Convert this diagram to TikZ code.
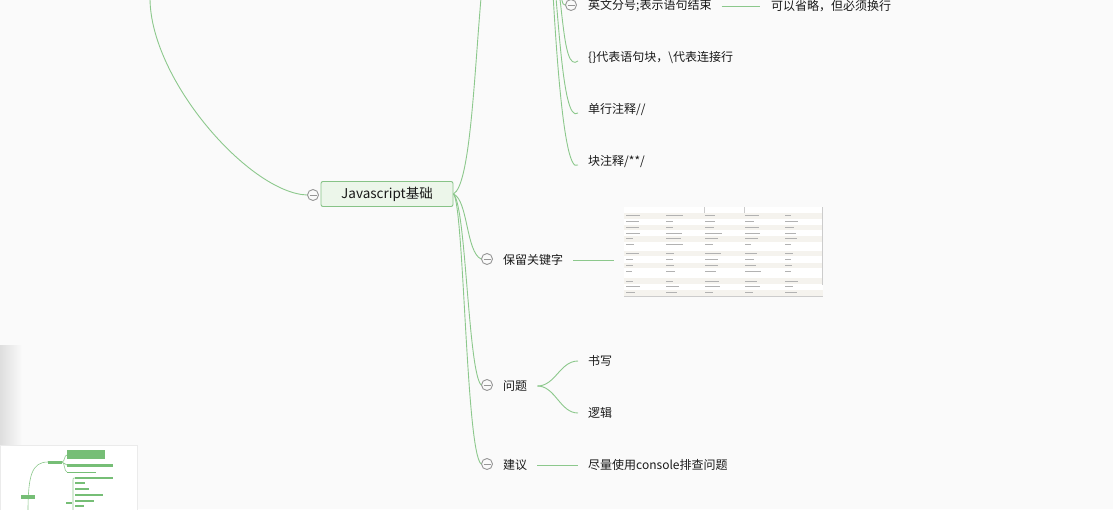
\documentclass[tikz,border=0pt]{standalone}
\usepackage{fontspec}
\newfontfamily\cjk{Noto Sans CJK SC}
\definecolor{bg}{RGB}{250,250,250}
\definecolor{branch}{RGB}{140,200,140}
\definecolor{rootfill}{RGB}{236,246,234}
\definecolor{rootline}{RGB}{135,195,135}
\definecolor{foldgray}{RGB}{150,150,150}
\definecolor{ink}{RGB}{25,25,25}
\definecolor{mapgreen}{RGB}{118,190,118}
\definecolor{rowtint}{RGB}{245,243,238}
\tikzset{
    topic/.style={anchor=west, inner sep=0pt, text=ink, font=\cjk\fontsize{12}{14}\selectfont},
    root/.style={draw=rootline, fill=rootfill, rounded corners=2pt, line width=0.9pt, minimum width=132pt, minimum height=25pt, text=ink, font=\cjk\fontsize{13.5}{15}\selectfont},
    fold/.style={circle, draw=foldgray, fill=bg, minimum size=11pt, inner sep=0pt, line width=0.9pt,
        path picture={\draw[foldgray, line width=0.9pt] ([xshift=-3.5pt]path picture bounding box.center) -- ([xshift=3.5pt]path picture bounding box.center);}},
    link/.style={draw=branch, line width=0.9pt},
    cell/.style={black!30, line width=1pt},
    mapbar/.style={fill=mapgreen, draw=none}
}
\begin{document}
\begin{tikzpicture}[x=1pt, y=-1pt]
    \useasboundingbox (0,0) rectangle (1113,509);
    \clip (0,0) rectangle (1113,509);
    \fill[bg] (0,0) rectangle (1113,509);
    \shade[left color=black!13, right color=bg] (0,345) rectangle (22,445);

    \node[root] at (387,194) (root) {Javascript基础};
    \node[fold] at (313,195) (rfold) {};
    \coordinate (upleft) at (150,-2);
    \coordinate (upright) at (481,-2);
    \coordinate (sup) at (550,-60);
    \draw[link] (rfold.west) .. controls (250,193) and (150,80) .. (upleft);
    \draw[link] (root.east) .. controls (470,185) and (474,80) .. (upright);

    \node[fold] at (571,5) (semifold) {};
    \node[topic] at (588,6) (semi) {英文分号;表示语句结束};
    \node[topic] at (771,6) (omit) {可以省略，但必须换行};
    \node[topic] at (588,58) (brace) {\{\}代表语句块，\textbackslash 代表连接行};
    \node[topic] at (588,110) (line) {单行注释//};
    \node[topic] at (588,162) (block) {块注释/**/};
    \draw[link] (sup) .. controls (566,-20) and (558,5) .. (semifold.west);
    \draw[link] ([xshift=10pt]semi.east) -- ([xshift=-11pt]omit.west);
    \foreach \t/\s in {brace/564, line/558, block/553}
        \draw[link] (sup) .. controls (\s,-10) and ([xshift=-27pt, yshift=-16pt]\t.west) .. ([xshift=-10pt, yshift=-3pt]\t.west);

    \node[fold] at (487,259) (keyfold) {};
    \node[topic] at (503,260) (key) {保留关键字};
    \node[fold] at (487,385) (qfold) {};
    \node[topic] at (503,386) (quest) {问题};
    \node[fold] at (487,464) (advfold) {};
    \node[topic] at (503,465) (adv) {建议};
    \draw[link] (root.east) .. controls (468,200) and (466,252) .. (keyfold.west);
    \draw[link] (root.east) .. controls (466,205) and (468,370) .. (qfold.west);
    \draw[link] (root.east) .. controls (464,205) and (466,450) .. (advfold.west);

    \node[topic] at (588,361) (write) {书写};
    \node[topic] at (588,413) (logic) {逻辑};
    \node[topic] at (588,465) (cons) {尽量使用console排查问题};
    \coordinate (qsplit) at ([xshift=10pt]quest.east);
    \draw[link] (qsplit) .. controls +(18,0) and +(-18,0) .. ([xshift=-10pt]write.west);
    \draw[link] (qsplit) .. controls +(18,0) and +(-18,0) .. ([xshift=-10pt]logic.west);
    \draw[link] ([xshift=10pt]adv.east) -- ([xshift=-10pt]cons.west);

    \node[fill=white, inner sep=0pt, minimum width=199pt, minimum height=90pt, anchor=north west] at (624,207) (tbl) {};
    \draw[link] ([xshift=10pt]key.east) -- ([xshift=-10pt]tbl.west |- key.east);
    \pgfmathsetseed{11}
    \foreach \y [count=\i] in {215.7,221.7,227.3,233,238.7,244.3,253.3,259.3,265.3,271,281,286.7,292.7} {
        \ifodd\i \fill[rowtint] (624,\y-2.8) rectangle (823,\y+2.8); \fi
        \foreach \cx in {626,666,705,745,785} {
            \pgfmathsetmacro\len{5+13*rnd}
            \draw[cell] (\cx,\y) -- +(\len,0);
        }
    }
    \draw[black!20] (704,207) -- (704,213) (744,207) -- (744,213) (822,207) -- (822,285) (624,296.5) -- (823,296.5);

    \fill[white, draw=black!8] (0,445) rectangle (137,515);
    \draw[branch, line width=0.6pt] (48,462) .. controls (32,462) and (28,475) .. (28,512);
    \draw[branch, line width=0.6pt] (62,462) .. controls (65,462) and (64,455) .. (67,455)
        (62,462) .. controls (65,462) and (64,465) .. (67,465)
        (62,462) .. controls (65,462) and (64,472) .. (67,472)
        (73,512) -- (73,480) .. controls (73,478) .. (75,478);
    \fill[mapbar] (21,495) rectangle (35,499);
    \fill[mapbar] (48,461) rectangle (62,463.5);
    \fill[mapbar] (67,450) rectangle (105,459);
    \fill[mapbar] (67,463.5) rectangle (113,467);
    \fill[mapbar] (67,471.5) rectangle (96,473);
    \fill[mapbar] (66,502) rectangle (72,504);
    \foreach \y/\e in {478/113, 483/85, 489/89, 495/103, 501/94, 506/84}
        \fill[mapbar] (75,\y-0.9) rectangle (\e,\y+0.9);
\end{tikzpicture}
\end{document}
